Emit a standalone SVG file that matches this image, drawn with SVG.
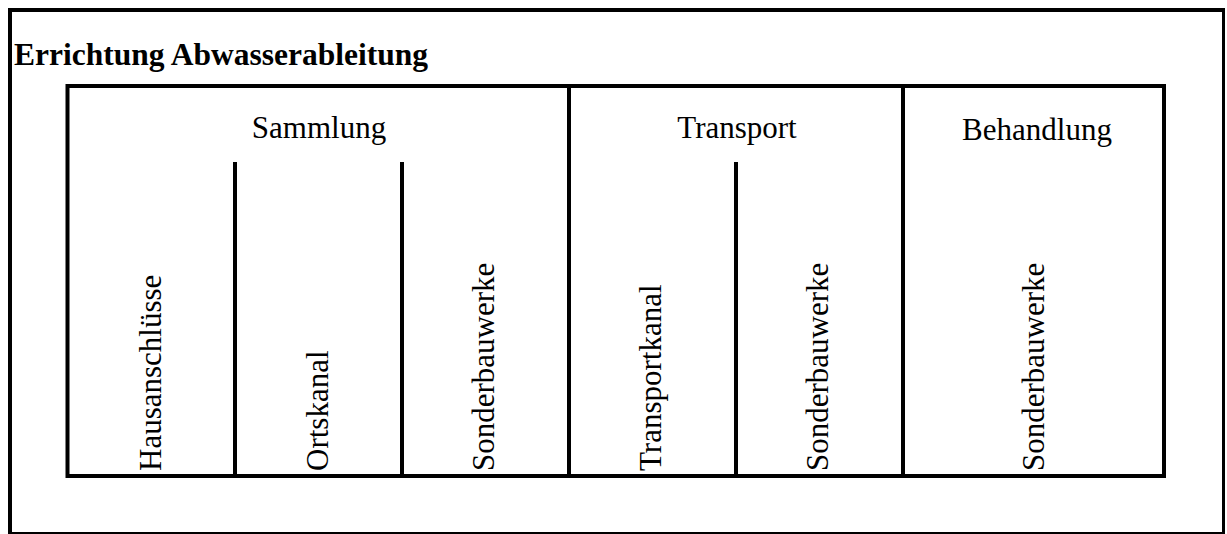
<svg xmlns="http://www.w3.org/2000/svg" width="1227" height="534" viewBox="0 0 1227 534">
<style>
.t{font-family:"Liberation Serif","Times New Roman",serif;font-size:31px;fill:#000}
.b{font-weight:bold;font-size:31.5px}
.l{stroke:#000;stroke-width:4;fill:none;stroke-linecap:square}
</style>
<rect width="1227" height="534" fill="#fff"/>
<g id="frame">
<line x1="10" y1="10" x2="1223.5" y2="10" stroke="#000" stroke-width="4"/>
<line x1="10" y1="8" x2="10" y2="533" stroke="#000" stroke-width="4"/>
<line x1="1223.5" y1="8" x2="1223.5" y2="534" stroke="#000" stroke-width="3"/>
<line x1="8" y1="533" x2="1225" y2="533" stroke="#000" stroke-width="2"/>
</g>
<g id="title"><text class="t b" x="14" y="65">Errichtung Abwasserableitung</text></g>
<g id="connectors">
<rect class="l" x="67.5" y="86" width="1096.5" height="390"/>
<line class="l" x1="569" y1="86" x2="569" y2="476"/>
<line class="l" x1="903" y1="86" x2="903" y2="476"/>
<line class="l" x1="235" y1="164" x2="235" y2="476" stroke-linecap="butt"/>
<line class="l" x1="402" y1="164" x2="402" y2="476" stroke-linecap="butt"/>
<line class="l" x1="736" y1="164" x2="736" y2="476" stroke-linecap="butt"/>
</g>
<g id="sammlung"><text class="t" x="319" y="138" text-anchor="middle">Sammlung</text></g>
<g id="transport"><text class="t" x="737" y="138" text-anchor="middle">Transport</text></g>
<g id="behandlung"><text class="t" x="1037" y="140" text-anchor="middle">Behandlung</text></g>
<g id="hausanschluesse"><text class="t" transform="translate(160.5,471) rotate(-90)">Hausanschlüsse</text></g>
<g id="ortskanal"><text class="t" transform="translate(327.5,471) rotate(-90)">Ortskanal</text></g>
<g id="sonderbauwerke1"><text class="t" transform="translate(493.5,471) rotate(-90)">Sonderbauwerke</text></g>
<g id="transportkanal"><text class="t" transform="translate(661,471) rotate(-90)">Transportkanal</text></g>
<g id="sonderbauwerke2"><text class="t" transform="translate(828,471) rotate(-90)">Sonderbauwerke</text></g>
<g id="sonderbauwerke3"><text class="t" transform="translate(1044,471) rotate(-90)">Sonderbauwerke</text></g>
</svg>
